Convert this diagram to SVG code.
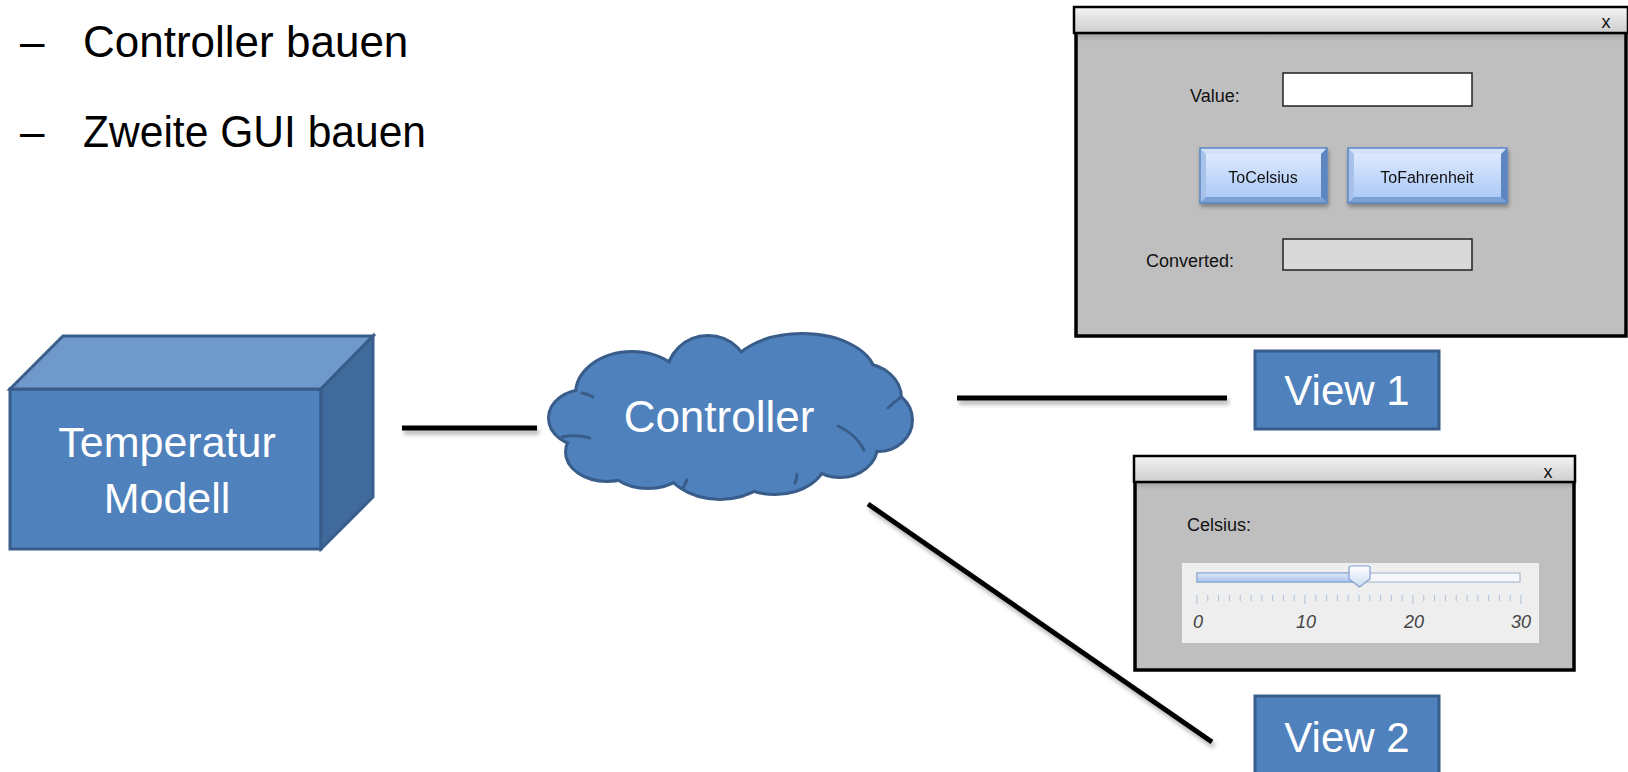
<svg xmlns="http://www.w3.org/2000/svg" width="1628" height="772" viewBox="0 0 1628 772">
<style>
.bullet{font-family:"Liberation Sans",Arial,sans-serif;font-size:44px;fill:#000}
.big{font-family:"Liberation Sans",Arial,sans-serif;font-size:43px;fill:#fff;text-anchor:middle}
.ui{font-family:"Liberation Sans",Arial,sans-serif;font-size:18px;fill:#111}
.btn{font-family:"Liberation Sans",Arial,sans-serif;font-size:16px;fill:#111;text-anchor:middle}
.tick{font-family:"Liberation Sans",Arial,sans-serif;font-size:18px;font-style:italic;fill:#444;text-anchor:middle}
.conn{stroke:#000;stroke-width:5;fill:none}
.blue{fill:#4f81bd;stroke:#385d8a;stroke-width:3}
.frame{fill:#bfbfbf;stroke:#000;stroke-width:3.5}
.tbar{fill:url(#tg);stroke:#000;stroke-width:2.5}
.inner{fill:none;stroke:#385d8a;stroke-width:3;stroke-linecap:round}
</style>
<defs>
<filter id="sh" filterUnits="userSpaceOnUse" x="0" y="0" width="1628" height="772">
<feDropShadow dx="2" dy="4" stdDeviation="2" flood-color="#000" flood-opacity="0.3"/>
</filter>
<filter id="bsh" x="-10%" y="-10%" width="130%" height="140%">
<feDropShadow dx="1" dy="3" stdDeviation="2" flood-color="#000" flood-opacity="0.35"/>
</filter>
<linearGradient id="tg" x1="0" y1="0" x2="0" y2="1">
<stop offset="0" stop-color="#f4f4f4"/><stop offset="1" stop-color="#cdcdcd"/>
</linearGradient>
<linearGradient id="ts" x1="0" y1="0" x2="0" y2="1">
<stop offset="0" stop-color="#888" stop-opacity="0.6"/><stop offset="1" stop-color="#bfbfbf" stop-opacity="0"/>
</linearGradient>
<linearGradient id="bf" x1="0" y1="0" x2="0" y2="1">
<stop offset="0" stop-color="#e2edff"/><stop offset="1" stop-color="#a8c6f6"/>
</linearGradient>
<linearGradient id="trk" x1="0" y1="0" x2="0" y2="1">
<stop offset="0" stop-color="#dfe9f8"/><stop offset="1" stop-color="#a9c3ea"/>
</linearGradient>
<linearGradient id="thm" x1="0" y1="0" x2="0" y2="1">
<stop offset="0" stop-color="#ffffff"/><stop offset="1" stop-color="#cddcf3"/>
</linearGradient>
</defs>

<g id="bullets">
<text class="bullet" x="20" y="57">–</text>
<text class="bullet" x="83" y="57">Controller bauen</text>
<text class="bullet" x="20" y="147">–</text>
<text class="bullet" x="83" y="147" textLength="343" lengthAdjust="spacingAndGlyphs">Zweite GUI bauen</text>
</g>

<g id="connectors" filter="url(#sh)">
<line class="conn" x1="402" y1="428" x2="537" y2="428"/>
<line class="conn" x1="957" y1="398" x2="1227" y2="398"/>
<line class="conn" x1="868" y1="504" x2="1212" y2="742"/>
</g>

<g id="model">
<rect class="blue" x="10" y="389" width="311" height="160"/>
<polygon class="blue" style="fill:#7099cb" points="10,389 63,336 373,336 321,389"/>
<polygon class="blue" style="fill:#40699c" points="321,389 373,336 373,497 321,549"/>
<text class="big" x="167" y="457">Temperatur</text>
<text class="big" x="167" y="513">Modell</text>
</g>

<g id="controller">
<g fill="#385d8a" stroke="#385d8a" stroke-width="6">
<ellipse cx="585" cy="418" rx="35" ry="27"/>
<ellipse cx="607" cy="452" rx="40" ry="28"/>
<ellipse cx="632" cy="394" rx="55" ry="41"/>
<ellipse cx="708" cy="376" rx="40" ry="39"/>
<ellipse cx="802" cy="376" rx="72" ry="41"/>
<ellipse cx="862" cy="398" rx="38" ry="33"/>
<ellipse cx="878" cy="420" rx="33" ry="30"/>
<ellipse cx="840" cy="446" rx="36" ry="30"/>
<ellipse cx="775" cy="458" rx="50" ry="35"/>
<ellipse cx="720" cy="460" rx="55" ry="38"/>
<ellipse cx="648" cy="458" rx="42" ry="29"/>
</g>
<g fill="#4f81bd">
<ellipse cx="585" cy="418" rx="35" ry="27"/>
<ellipse cx="607" cy="452" rx="40" ry="28"/>
<ellipse cx="632" cy="394" rx="55" ry="41"/>
<ellipse cx="708" cy="376" rx="40" ry="39"/>
<ellipse cx="802" cy="376" rx="72" ry="41"/>
<ellipse cx="862" cy="398" rx="38" ry="33"/>
<ellipse cx="878" cy="420" rx="33" ry="30"/>
<ellipse cx="840" cy="446" rx="36" ry="30"/>
<ellipse cx="775" cy="458" rx="50" ry="35"/>
<ellipse cx="720" cy="460" rx="55" ry="38"/>
<ellipse cx="648" cy="458" rx="42" ry="29"/>
<ellipse cx="730" cy="420" rx="140" ry="50"/>
</g>
<path class="inner" d="M562,437 Q576,434 590,438"/>
<path class="inner" d="M582,393 Q588,394 593,397"/>
<path class="inner" d="M888,408 Q894,402 900,398"/>
<path class="inner" d="M838,426 Q856,434 864,450"/>
<path class="inner" d="M797,474 Q797,479 795,483"/>
<path class="inner" d="M687,480 Q685,484 683,488"/>
<text class="big" x="719" y="432" style="font-size:44px">Controller</text>
</g>

<g id="view1">
<rect class="blue" x="1255" y="351" width="184" height="78"/>
<text class="big" x="1347" y="405" style="font-size:42px">View 1</text>
</g>

<g id="view2">
<rect class="blue" x="1255" y="696" width="184" height="80"/>
<text class="big" x="1347" y="752" style="font-size:42px">View 2</text>
</g>

<g id="window1">
<rect class="frame" x="1076" y="32" width="550" height="304"/>
<rect x="1078" y="34" width="546" height="9" fill="url(#ts)"/>
<rect class="tbar" x="1074" y="7" width="554" height="26"/>
<text class="ui" x="1606" y="28" text-anchor="middle">x</text>
<text class="ui" x="1190" y="102">Value:</text>
<rect x="1283" y="73" width="189" height="33" fill="#fff" stroke="#222" stroke-width="1.5"/>
<g id="btnCelsius" filter="url(#bsh)">
<rect x="1200" y="148" width="127" height="55" fill="url(#bf)"/>
<polygon points="1200,148 1327,148 1321,154 1206,154" fill="#d3e2f8"/>
<polygon points="1200,148 1206,154 1206,197 1200,203" fill="#a8c3ea"/>
<polygon points="1327,148 1327,203 1321,197 1321,154" fill="#5d86c0"/>
<polygon points="1200,203 1206,197 1321,197 1327,203" fill="#7aa0d6"/>
<rect x="1200" y="148" width="127" height="55" fill="none" stroke="#5b86c5" stroke-width="1.5"/>
<text class="btn" x="1263" y="183">ToCelsius</text>
</g>
<g id="btnFahrenheit" filter="url(#bsh)">
<rect x="1348" y="148" width="159" height="55" fill="url(#bf)"/>
<polygon points="1348,148 1507,148 1501,154 1354,154" fill="#d3e2f8"/>
<polygon points="1348,148 1354,154 1354,197 1348,203" fill="#a8c3ea"/>
<polygon points="1507,148 1507,203 1501,197 1501,154" fill="#5d86c0"/>
<polygon points="1348,203 1354,197 1501,197 1507,203" fill="#7aa0d6"/>
<rect x="1348" y="148" width="159" height="55" fill="none" stroke="#5b86c5" stroke-width="1.5"/>
<text class="btn" x="1427" y="183">ToFahrenheit</text>
</g>
<text class="ui" x="1146" y="267">Converted:</text>
<rect x="1283" y="239" width="189" height="31" fill="#d9d9d9" stroke="#222" stroke-width="1.5"/>
</g>

<g id="window2">
<rect class="frame" x="1135" y="481" width="439" height="189"/>
<rect x="1137" y="483" width="435" height="9" fill="url(#ts)"/>
<rect class="tbar" x="1134" y="456" width="441" height="26"/>
<text class="ui" x="1548" y="478" text-anchor="middle">x</text>
<text class="ui" x="1187" y="531">Celsius:</text>
<rect x="1182" y="563" width="357" height="80" fill="#eeeeee"/>
<rect x="1197" y="573" width="323" height="9" fill="#f5f7fa" stroke="#9fb2cb" stroke-width="1"/>
<rect x="1197" y="573" width="160" height="9" fill="url(#trk)" stroke="#7d9ed0" stroke-width="1"/>
<path d="M1349,568 q0,-2 2,-2 h17 q2,0 2,2 v11 l-10.5,8 l-10.5,-8 z" fill="url(#thm)" stroke="#7d9ed0" stroke-width="1.2"/>
<path d="M1197,595v9M1207.8,595v6M1218.6,595v6M1229.4,595v6M1240.2,595v6M1251,595v6M1261.8,595v6M1272.6,595v6M1283.4,595v6M1294.2,595v6M1305,595v9M1315.8,595v6M1326.6,595v6M1337.4,595v6M1348.2,595v6M1359,595v6M1369.8,595v6M1380.6,595v6M1391.4,595v6M1402.2,595v6M1413,595v9M1423.8,595v6M1434.6,595v6M1445.4,595v6M1456.2,595v6M1467,595v6M1477.8,595v6M1488.6,595v6M1499.4,595v6M1510.2,595v6M1521,595v9" stroke="#a9bfd9" stroke-width="1"/>
<text class="tick" x="1198" y="628">0</text>
<text class="tick" x="1306" y="628">10</text>
<text class="tick" x="1414" y="628">20</text>
<text class="tick" x="1521" y="628">30</text>
</g>
</svg>
